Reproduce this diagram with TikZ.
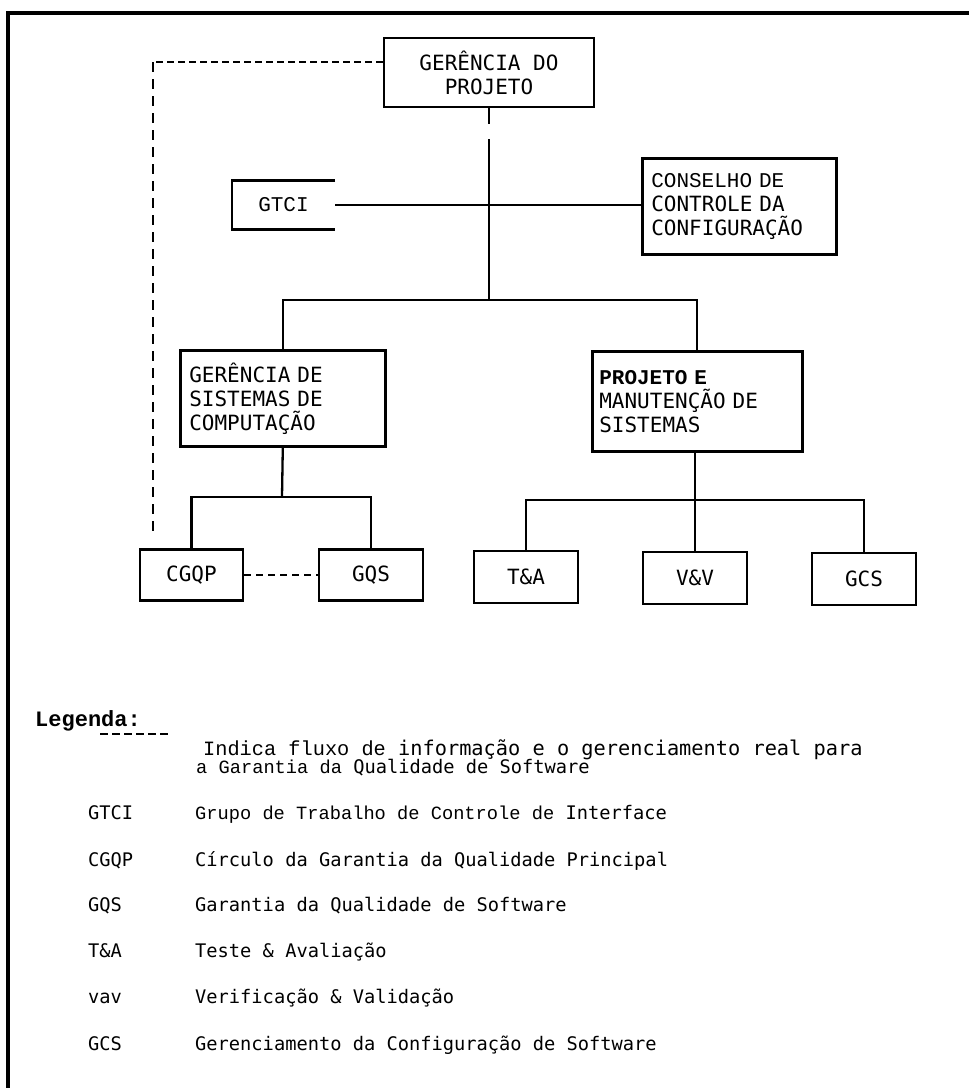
\documentclass[tikz,border=0pt]{standalone}
\usepackage{fontspec}
\setmainfont{DejaVu Sans Mono}
\newfontfamily\cour{Liberation Mono}
\begin{document}
\begin{tikzpicture}[x=1pt,y=-1pt,
  boxline/.style={line width=2.6pt},
  box/.style={draw, line width=2.6pt, inner sep=0pt, font=\fontsize{21}{24}\selectfont},
  lbox/.style={box, align=left, anchor=north west},
  conn/.style={line width=2.3pt},
  dashh/.style={line width=2.5pt, dash pattern=on 7pt off 4pt},
  dashv/.style={line width=2.5pt, dash pattern=on 10pt off 7pt},
  dashs/.style={line width=2.3pt, dash pattern=on 7pt off 5pt},
  frame/.style={line width=3.5pt},
  leg/.style={anchor=base west, inner sep=0pt, font=\fontsize{18.7}{23}\selectfont}
]
\useasboundingbox (0,0) rectangle (969,1088);
% frame
\coordinate (ftr) at (969,13);
\coordinate (ftl) at (8,13);
\coordinate (fbl) at (8,1088);
\draw[frame] (ftr) -- (ftl) -- (fbl);

% boxes
\node[box, minimum width=210pt, minimum height=69pt, align=center] (gp) at (489,72.5) {GERÊNCIA DO\\PROJETO};
\node[inner sep=0pt, minimum width=103pt, minimum height=49pt, font=\fontsize{21}{24}\selectfont] (gtci) at (283.5,205) {\cour GTCI};
\draw[boxline] (gtci.north east) -- (gtci.north west) -- (gtci.south west) -- (gtci.south east);
\node[lbox, minimum width=194pt, minimum height=96pt, text width=176pt, inner xsep=9pt] (cons) at (641,157)
  {{\cour CONSELHO DE}\\CONTROLE DA\\CONFIGURAÇÃO};
\node[lbox, minimum width=205pt, minimum height=96pt, text width=187pt, inner xsep=9pt] (gsc) at (179,349)
  {GERÊNCIA DE\\SISTEMAS DE\\COMPUTAÇÃO};
\node[lbox, minimum width=210pt, minimum height=100pt, text width=196pt, inner xsep=7pt] (pms) at (591,350)
  {{\cour\bfseries PROJETO E}\\MANUTENÇÃO DE\\SISTEMAS};

\node[box, minimum width=103pt, minimum height=51pt] (cgqp) at (191.5,575) {CGQP};
\node[box, minimum width=104pt, minimum height=51pt] (gqs) at (371,575) {GQS};
\node[box, minimum width=104pt, minimum height=52pt] (ta) at (526,577) {T\&A};
\node[box, minimum width=104pt, minimum height=52pt] (vv) at (695,578) {V\&V};
\node[box, minimum width=104pt, minimum height=52pt] (gcs) at (864,579) {GCS};

% connectors
\coordinate (gpstub) at (489,124);
\coordinate (vtop) at (489,139);
\coordinate (j1) at (489,300);
\draw[conn] (gp.south) -- (gpstub);
\draw[conn] (vtop) -- (j1);
\draw[conn] (gtci.east) -- (gtci.east -| cons.west);
\draw[conn] (gsc.north) -- (gsc.north |- j1) -- (pms.north |- j1) -- (pms.north);

\coordinate (j2) at (282,497);
\draw[conn] (gsc.south) -- (j2);
\draw[conn] (cgqp.north) -- (cgqp.north |- j2) -- (gqs.north |- j2) -- (gqs.north);

\coordinate (j3) at (695,500);
\draw[conn] (pms.south -| j3) -- (j3);
\draw[conn] (ta.north) -- (ta.north |- j3) -- (gcs.north |- j3) -- (gcs.north);
\draw[conn] (vv.north) -- (vv.north |- j3);

% dashed
\coordinate (dcorner) at (153,62);
\coordinate (dend) at (153,532);
\draw[dashh] (gp.west |- dcorner) -- (dcorner);
\draw[dashv] (dcorner) -- (dend);
\draw[dashs] (cgqp.east) -- (gqs.west);

% legend
\node[leg, font=\fontsize{22}{24}\selectfont] (legt) at (35,726) {\cour\bfseries Legenda:};
\coordinate (ld1) at (100,734);
\coordinate (ld2) at (171,734);
\draw[line width=2pt, dash pattern=on 8pt off 4pt] (ld1) -- (ld2);
\node[leg, font=\fontsize{20.3}{23}\selectfont] (l1) at (203,755) {{\cour Indica fluxo de} informação e o gerenciamento real para};
\node[leg] (l2) at (196,773) {{\cour a Garantia da} Qualidade de Software};

\node[leg] (a1) at (88,819) {GTCI};
\node[leg] (d1) at (195,819) {{\cour Grupo de Trabalho de Controle de} Interface};
\node[leg] (a2) at (88,866) {CGQP};
\node[leg] (d2) at (195,866) {Círculo  da Garantia da Qualidade Principal};
\node[leg] (a3) at (88,911) {GQS};
\node[leg] (d3) at (195,911) {Garantia da Qualidade de Software};
\node[leg] (a4) at (88,957) {T\&A};
\node[leg] (d4) at (195,957) {Teste \& Avaliação};
\node[leg] (a5) at (88,1003) {vav};
\node[leg] (d5) at (195,1003) {Verificação \& Validação};
\node[leg] (a6) at (88,1050) {GCS};
\node[leg] (d6) at (195,1050) {Gerenciamento da Configuração de Software};
\end{tikzpicture}
\end{document}
